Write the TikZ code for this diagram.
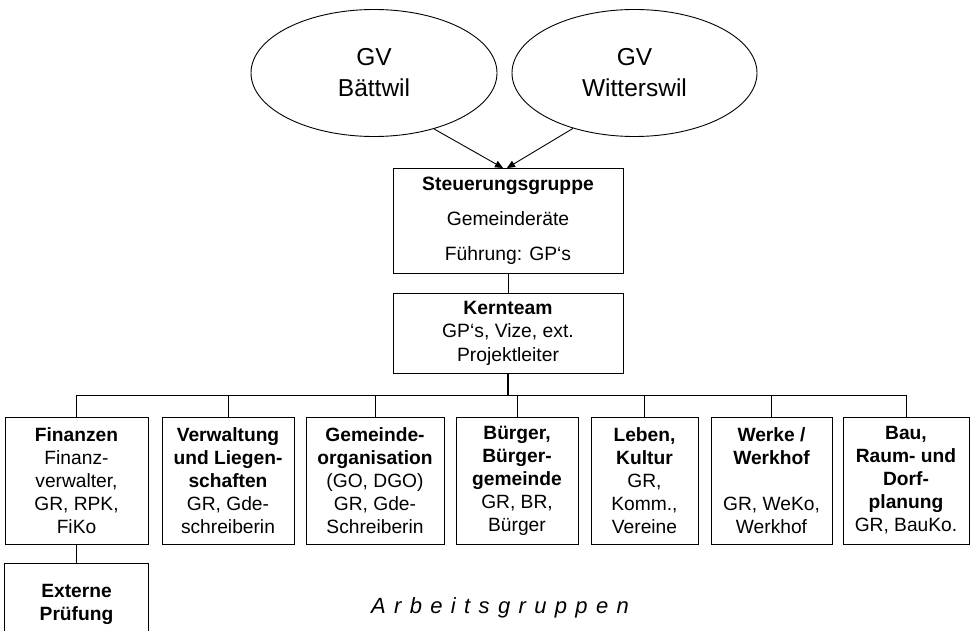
\documentclass[tikz,border=0pt]{standalone}
\usepackage{fontspec}
\setmainfont{Liberation Sans}
\newfontfamily\spacedfont[LetterSpace=38]{Liberation Sans}
\usetikzlibrary{shapes.geometric,arrows.meta}
\begin{document}
\begin{tikzpicture}[x=1pt, y=-1pt, line width=0.9pt,
    gv/.style={draw, ellipse, minimum width=246pt, minimum height=127pt, align=center, font=\fontsize{24.5}{31}\selectfont},
    topbox/.style={draw, rectangle, minimum width=230pt, align=center, font=\fontsize{19.3}{23.5}\selectfont},
    groupbox/.style={draw, rectangle, minimum height=127pt, inner sep=0pt, align=center, font=\fontsize{19.2}{23}\selectfont}]
    \useasboundingbox (0,0) rectangle (972,631);
    \node[gv] (gvb) at (374,73) {GV\\Bättwil};
    \node[gv, minimum width=245pt] (gvw) at (634.5,73) {GV\\Witterswil};
    \node[topbox, minimum height=105pt] (steuer) at (508,220.5) {\textbf{Steuerungsgruppe}\\[11.5pt]Gemeinderäte\\[11.5pt]Führung: GP‘s};
    \node[topbox, minimum height=80pt] (kern) at (508,333) {\textbf{Kernteam}\\GP‘s, Vize, ext.\\Projektleiter};
    \coordinate (tipb) at (503,168);
    \coordinate (tipw) at (507,168);
    \draw[-{Triangle[length=8pt,width=7pt]}] (gvb.-43) -- (tipb);
    \draw[-{Triangle[length=8pt,width=7pt]}] (gvw.-138) -- (tipw);
    \draw (steuer) -- (kern);
    \node[groupbox, minimum width=143pt] (fin) at (76.5,480.5) {\textbf{Finanzen}\\Finanz-\\verwalter,\\GR, RPK,\\FiKo};
    \node[groupbox, minimum width=132pt] (verw) at (228,480.5) {\textbf{Verwaltung}\\\textbf{und Liegen-}\\\textbf{schaften}\\GR, Gde-\\schreiberin};
    \node[groupbox, minimum width=138pt] (gorg) at (375,480.5) {\textbf{Gemeinde-}\\\textbf{organisation}\\(GO, DGO)\\GR, Gde-\\Schreiberin};
    \node[groupbox, minimum width=122pt] (buerg) at (517,480.5) {\textbf{Bürger,}\\\textbf{Bürger-}\\\textbf{gemeinde}\\GR, BR,\\Bürger};
    \node[groupbox, minimum width=107pt] (kult) at (644.5,480.5) {\textbf{Leben,}\\\textbf{Kultur}\\GR,\\Komm.,\\Vereine};
    \node[groupbox, minimum width=121pt] (werk) at (771.5,480.5) {\textbf{Werke /}\\\textbf{Werkhof}\\[23pt]GR, WeKo,\\Werkhof};
    \node[groupbox, minimum width=126pt] (bau) at (906,480.5) {\textbf{Bau,}\\\textbf{Raum- und}\\\textbf{Dorf-}\\\textbf{planung}\\GR, BauKo.};
    \coordinate (bus) at (0,395);
    \draw[line width=1.8pt] (kern) -- (kern |- bus);
    \draw (fin) |- (bus -| bau) -- (bau);
    \draw (verw) -- (verw |- bus);
    \draw (gorg) -- (gorg |- bus);
    \draw (buerg) -- (buerg |- bus);
    \draw (kult) -- (kult |- bus);
    \draw (werk) -- (werk |- bus);
    \node[inner sep=0pt, minimum width=143pt, minimum height=80pt, align=center, font=\fontsize{19.2}{23}\selectfont\bfseries] (ext) at (76.5,604) {Externe\\Prüfung};
    \coordinate (pagebottom) at (0,631);
    \draw (ext.south west |- pagebottom) -- (ext.north west) -- (ext.north east) -- (ext.south east |- pagebottom);
    \draw (fin) -- (ext);
    \node[anchor=base, font=\fontsize{22}{26}\spacedfont\itshape] (arbeit) at (500,613) {Arbeitsgruppen};
\end{tikzpicture}
\end{document}
